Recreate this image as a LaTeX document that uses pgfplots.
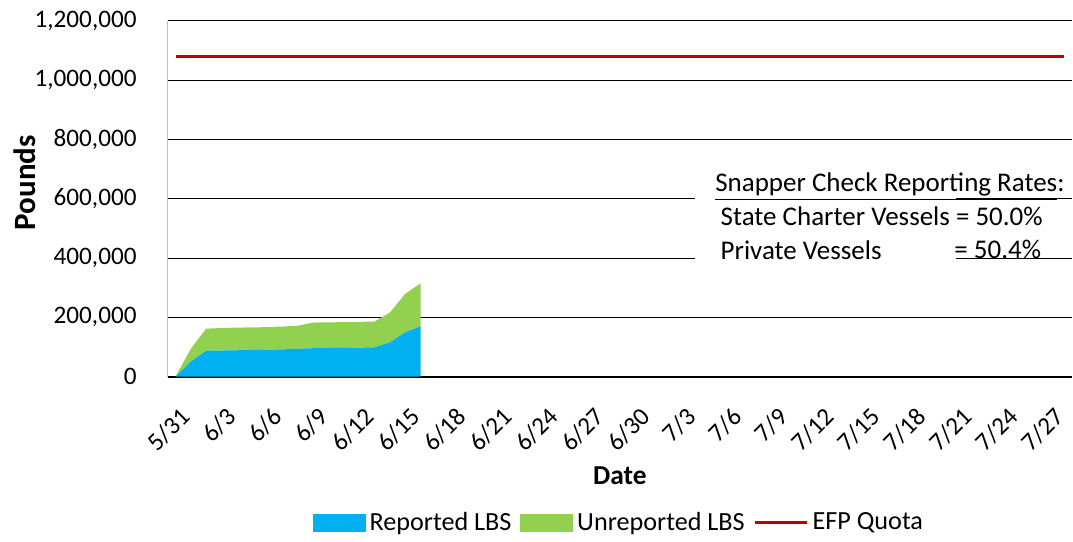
\documentclass[border=0pt]{standalone}
\usepackage{fontspec}
\setmainfont{Carlito}
\usepackage{pgfplots}
\pgfplotsset{compat=1.18}

\definecolor{repblue}{HTML}{00B0F0}
\definecolor{unrepgreen}{HTML}{92D050}
\definecolor{quotared}{HTML}{C00000}

\begin{document}
\begin{tikzpicture}
\begin{axis}[
    scale only axis,
    width=452.5pt,
    height=178pt,
    xmin=-0.5, xmax=58.5,
    ymin=0, ymax=1200000,
    xtick={0,3,...,57},
    xticklabels={5/31,6/3,6/6,6/9,6/12,6/15,6/18,6/21,6/24,6/27,6/30,7/3,7/6,7/9,7/12,7/15,7/18,7/21,7/24,7/27},
    ytick={0,200000,...,1200000},
    scaled y ticks=false,
    /pgf/number format/.cd, fixed, 1000 sep={,}, assume math mode=true,
    /pgfplots/.cd,
    tick style={draw=none},
    ymajorgrids,
    grid style={black, line width=0.5pt},
    axis x line=bottom,
    axis y line=left,
    axis line style={-},
    x axis line style={black, line width=1pt},
    y axis line style={black!25, line width=0.5pt},
    ticklabel style={font=\fontsize{12.6}{15}\selectfont},
    yticklabel style={xshift=-10pt},
    xticklabel style={xshift=2pt, yshift=-12.5pt, rotate=45, anchor=north east, inner sep=0pt},
    xlabel={Date},
    ylabel={Pounds},
    xlabel style={font=\bfseries\fontsize{13.7}{16}\selectfont, at={(axis description cs:0.5,-0.278)}, anchor=center},
    ylabel style={font=\bfseries\fontsize{15.5}{18}\selectfont, at={(axis description cs:-0.158,0.545)}, anchor=center},
    legend style={at={(axis description cs:0.5,0)}, anchor=center, yshift=-73pt,
        draw=none, legend columns=3, font=\fontsize{13.1}{16}\selectfont,
        /tikz/every even column/.append style={column sep=2.5pt}},
    stack plots=y,
]
\fill[white] (axis cs:33.9,700000) rectangle (axis cs:50.9,385000);
% reported pounds
\addplot[draw=none, fill=repblue, forget plot] coordinates {
(0,0) (1,51000) (2,87000) (3,88000) (4,89000) (5,90000) (6,91000) (7,92000) (8,94000)
(9,96000) (10,96500) (11,97000) (12,98000) (13,99000) (14,116000) (15,150000) (16,170000)
} \closedcycle;
% unreported pounds
\addplot[draw=none, fill=unrepgreen, forget plot] coordinates {
(0,0) (1,43000) (2,75000) (3,76000) (4,76500) (5,76000) (6,76000) (7,77000) (8,78000)
(9,86500) (10,86500) (11,87000) (12,87000) (13,87000) (14,101000) (15,130000) (16,145000)
} \closedcycle;
% quota
\addplot[quotared, line width=1.5pt, stack plots=false, forget plot] coordinates {(0,1080000) (58,1080000)};

\addlegendimage{legend image code/.code={\fill[repblue] (0pt,-4.25pt) rectangle (26pt,4.25pt);}}
\addlegendentry{Reported LBS}
\addlegendimage{legend image code/.code={\fill[unrepgreen] (0pt,-4.25pt) rectangle (26pt,4.25pt);}}
\addlegendentry{Unreported LBS}
\addlegendimage{legend image code/.code={\draw[quotared, line width=1.5pt] (0pt,0pt) -- (26pt,0pt);}}
\addlegendentry{EFP Quota}

\coordinate (t1) at (axis cs:35.2,640000);
\coordinate (t2) at (axis cs:35.55,540000);
\coordinate (t3) at (axis cs:35.55,428000);
\coordinate (t4) at (axis cs:50.8,428000);
\coordinate (sw) at (rel axis cs:0,0);
\coordinate (nw) at (rel axis cs:0,1);
\end{axis}
\path ([xshift=-84pt]sw) ([yshift=10.5pt]nw);
\begin{scope}[every node/.style={anchor=west, inner sep=0pt, font=\fontsize{13.5}{16}\selectfont}]
\node at (t1) {\underline{Snapper Check Reporting Rates}:};
\node at (t2) {State Charter Vessels = 50.0\%};
\node at (t3) {Private Vessels};
\node at (t4) {= 50.4\%};
\end{scope}
\end{tikzpicture}
\end{document}
